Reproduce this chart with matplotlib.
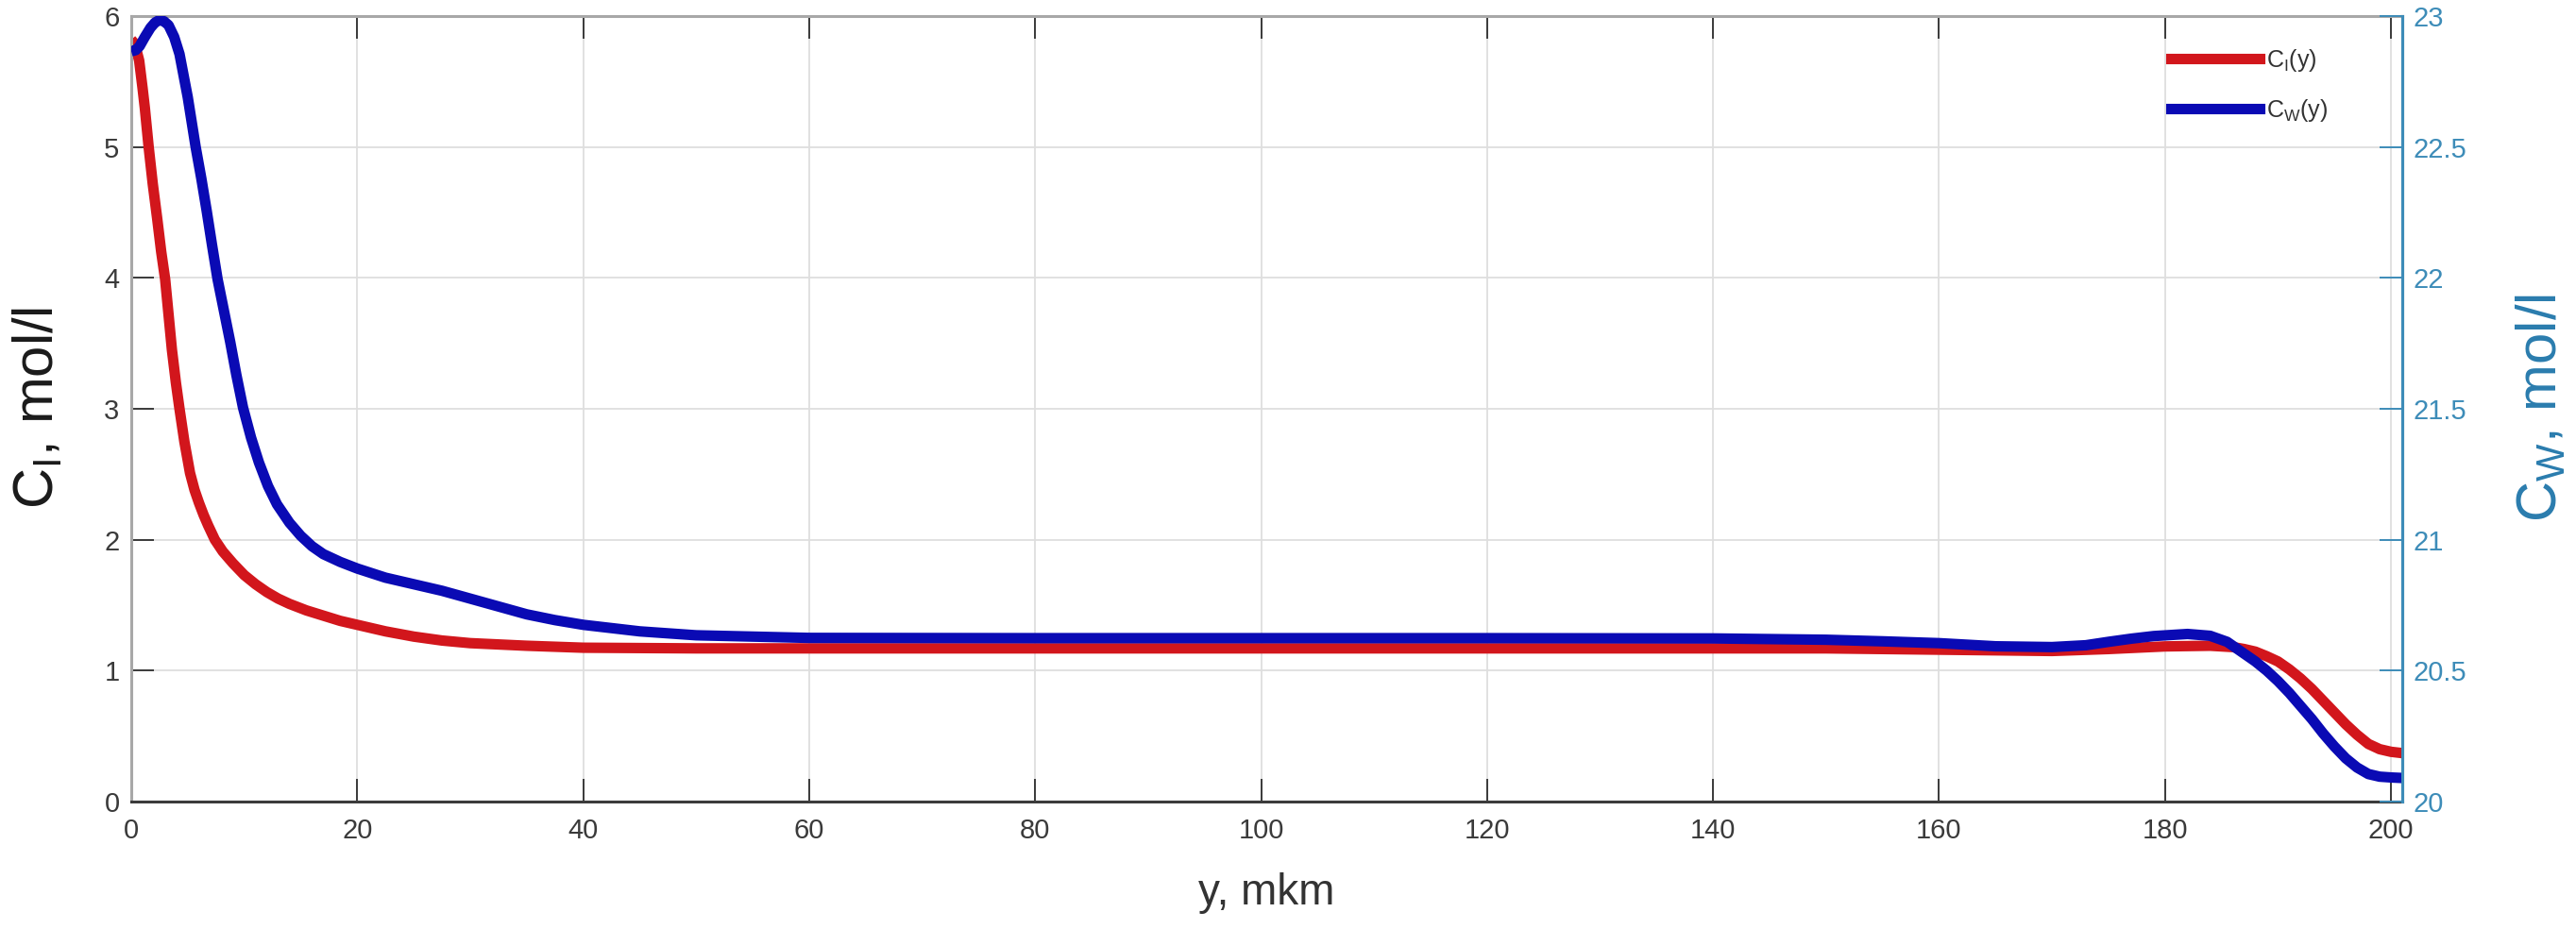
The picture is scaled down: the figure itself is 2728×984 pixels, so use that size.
#!/usr/bin/env python3
"""Concentration profiles C_I(y) and C_W(y) across the layer, two y axes."""

import matplotlib

matplotlib.use("Agg")
import matplotlib.pyplot as plt
from matplotlib.lines import Line2D

# values
y_ci = [0, 0.2, 0.4, 0.7, 1.0, 1.2, 1.54, 1.9, 2.3, 2.65, 3.0, 3.3, 3.6, 3.95,
        4.27, 4.7, 5.2, 5.6, 6.0, 6.4, 6.8, 7.4, 8.1, 9.0, 10, 11, 12, 13, 14,
        15.5, 17, 18.5, 20, 22.5, 25, 27.5, 30, 35, 40, 50, 60, 80, 100, 120,
        140, 150, 160, 165, 170, 175, 180, 184, 186, 187, 188, 189, 190, 191,
        192, 193, 194, 195, 196, 197, 198, 199, 200, 201]
c_i = [5.82, 5.80, 5.76, 5.66, 5.45, 5.3, 5.0, 4.72, 4.45, 4.2, 3.99, 3.72,
       3.45, 3.2, 3.0, 2.75, 2.51, 2.38, 2.28, 2.19, 2.11, 2.0, 1.91, 1.82,
       1.73, 1.66, 1.6, 1.55, 1.51, 1.46, 1.42, 1.38, 1.35, 1.30, 1.26, 1.23,
       1.21, 1.19, 1.175, 1.17, 1.17, 1.17, 1.17, 1.17, 1.17, 1.17, 1.16,
       1.155, 1.15, 1.165, 1.185, 1.19, 1.18, 1.165, 1.145, 1.11, 1.07, 1.01,
       0.94, 0.86, 0.77, 0.68, 0.59, 0.51, 0.44, 0.40, 0.38, 0.37]

y_cw = [0, 0.4, 0.74, 1.2, 1.7, 2.1, 2.5, 2.9, 3.3, 3.8, 4.27, 5.0, 5.7, 6.2,
        6.68, 7.15, 7.64, 8.2, 8.76, 9.3, 9.89, 10.6, 11.3, 12.1, 12.9, 14,
        15, 16, 17, 18.5, 20, 22.5, 25, 27.5, 30, 32.5, 35, 37.5, 40, 45, 50,
        55, 60, 80, 100, 120, 140, 150, 155, 160, 165, 170, 173, 175, 177,
        179, 182, 184, 185.5, 187, 188, 189, 190, 191, 192, 193, 194, 195,
        196, 197, 198, 199, 200, 201]
c_w = [22.865, 22.87, 22.885, 22.92, 22.955, 22.975, 22.985, 22.98, 22.965,
       22.92, 22.855, 22.69, 22.5, 22.38, 22.255, 22.125, 21.995, 21.875,
       21.755, 21.63, 21.505, 21.39, 21.295, 21.205, 21.135, 21.065, 21.015,
       20.975, 20.945, 20.915, 20.89, 20.855, 20.83, 20.805, 20.775, 20.745,
       20.715, 20.693, 20.675, 20.65, 20.635, 20.63, 20.625, 20.624, 20.624,
       20.624, 20.623, 20.618, 20.612, 20.605, 20.593, 20.59, 20.597, 20.61,
       20.622, 20.632, 20.64, 20.633, 20.61, 20.565, 20.535, 20.5, 20.46,
       20.415, 20.365, 20.315, 20.26, 20.21, 20.165, 20.13, 20.105, 20.095,
       20.092, 20.09]

x_ticks = [0, 20, 40, 60, 80, 100, 120, 140, 160, 180, 200]
left_ticks = [0, 1, 2, 3, 4, 5, 6]
right_ticks = [20, 20.5, 21, 21.5, 22, 22.5, 23]
right_labels = ["20", "20.5", "21", "21.5", "22", "22.5", "23"]

RED = "#D2161C"
BLUE = "#0A0AB4"
TEAL = "#3D8CB8"
TEAL_DARK = "#2A7CAE"
GREY_TXT = "#3A3A3A"

plt.rcParams["font.family"] = ["Liberation Sans", "DejaVu Sans"]
plt.rcParams["mathtext.default"] = "regular"

W, H = 2728, 984
fig = plt.figure(figsize=(W / 100, H / 100), dpi=100)
ax = fig.add_axes([139 / W, 1 - 849 / H, (2544 - 139) / W, (849 - 17) / H])
ax2 = ax.twinx()

ax.plot(y_ci, c_i, color=RED, linewidth=8, solid_joinstyle="round",
        solid_capstyle="butt")
ax2.plot(y_cw, c_w, color=BLUE, linewidth=8, solid_joinstyle="round",
         solid_capstyle="butt")

ax.set_xlim(0, 201)
ax.set_ylim(0, 6)
ax2.set_ylim(20, 23)
ax.set_xticks(x_ticks)
ax.set_yticks(left_ticks)
ax2.set_yticks(right_ticks)
ax2.set_yticklabels(right_labels)

ax.grid(True, color="#DEDEDE", linewidth=1.3)
ax.set_axisbelow(True)

ax.tick_params(axis="x", direction="in", length=17, width=1.4, top=True,
               labelsize=21, pad=12, colors=GREY_TXT)
ax.tick_params(axis="y", direction="in", length=17, width=1.4, right=False,
               labelsize=21, pad=9, colors=GREY_TXT)
ax2.tick_params(axis="y", direction="in", length=17, width=1.4,
                labelsize=21, pad=8, colors=TEAL)

for name, sp in ax.spines.items():
    sp.set_linewidth(2.2)
ax.spines["bottom"].set_color("#3C3C3C")
ax.spines["left"].set_color("#A8A8A8")
ax.spines["top"].set_color("#A8A8A8")
ax2.spines["right"].set_color(TEAL)
ax2.spines["right"].set_linewidth(2.2)
for name in ("left", "top", "bottom"):
    ax2.spines[name].set_visible(False)

fig.text(57 / W, 1 - 432 / H, "C$_{I}$, mol/l", rotation=90,
         rotation_mode="anchor", ha="center", va="baseline",
         fontsize=43, color="#1A1A1A")
fig.text(2708 / W, 1 - 432 / H, "C$_{W}$, mol/l", rotation=90,
         rotation_mode="anchor", ha="center", va="baseline",
         fontsize=43, color=TEAL_DARK)
fig.text(1341 / W, 1 - 958 / H, "y, mkm", ha="center", va="baseline",
         fontsize=33, color="#333333")

handles = [Line2D([], [], color=RED, linewidth=8),
           Line2D([], [], color=BLUE, linewidth=8)]
fig.legend(handles, ["C$_{I}$(y)", "C$_{W}$(y)"], loc="upper left",
           bbox_to_anchor=(2289 / W, 1 - 40 / H), frameon=False,
           borderaxespad=0, fontsize=18, handlelength=3.76,
           handletextpad=0.28, labelspacing=1.0, labelcolor="#333333")

fig.savefig("out.png", dpi=100)
